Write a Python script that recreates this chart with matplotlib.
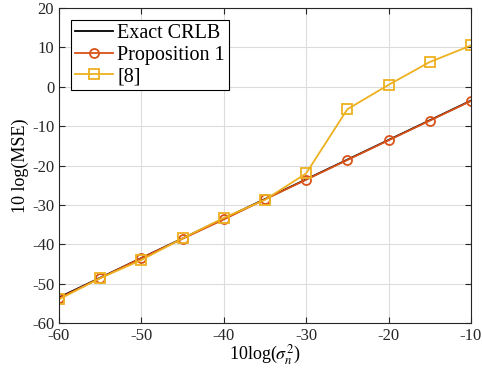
import numpy as np
import matplotlib; matplotlib.use('Agg'); import matplotlib.pyplot as plt

plt.rcParams['font.family'] = ['Liberation Serif', 'DejaVu Serif']
plt.rcParams['mathtext.fontset'] = 'stix'
plt.rcParams['axes.unicode_minus'] = False

snr = [-60, -55, -50, -45, -40, -35, -30, -25, -20, -15, -10]
crlb = [-53.5, -48.5, -43.5, -38.5, -33.5, -28.5, -23.5, -18.5, -13.5, -8.5, -3.5]
prop1 = [-53.7, -48.6, -43.5, -38.6, -33.7, -28.6, -23.6, -18.6, -13.6, -8.6, -3.6]
ref8 = [-54.0, -48.6, -44.0, -38.5, -33.3, -28.7, -22.0, -5.7, 0.5, 6.3, 10.5]

fig = plt.figure(figsize=(4.82, 3.68), dpi=100)
ax = fig.add_axes([0.1224, 0.1223, 0.8546, 0.8557])
ax.plot(snr, crlb, '-', color='k', lw=1.3, label='Exact CRLB')
ax.plot(snr, prop1, '-o', color='#D95319', lw=1.3, ms=6.5, mfc='none', mew=1.3, label='Proposition 1')
ax.plot(snr, ref8, '-s', color='#EDB120', lw=1.3, ms=6.5, mfc='none', mew=1.3, label='[8]')

ax.set_xlim(-60, -10); ax.set_ylim(-60, 20)
ax.set_xticks(range(-60, -9, 10)); ax.set_yticks(range(-60, 21, 10))
ax.grid(True, color='#dcdcdc', lw=0.8)
ax.set_axisbelow(True)
ax.tick_params(direction='in', top=True, right=True, labelsize=12, colors='#262626', length=4)
for s in ax.spines.values(): s.set_color('#262626'); s.set_linewidth(0.8)
ax.set_xlabel(r'10log($\sigma_n^2$)', fontsize=13, labelpad=-1)
ax.set_ylabel('10 log(MSE)', fontsize=13, labelpad=2)
leg = ax.legend(loc='upper left', fontsize=14.5, fancybox=False, edgecolor='k', framealpha=1,
                handlelength=1.9, borderpad=0.2, labelspacing=0.12, handletextpad=0.2, borderaxespad=0.6)
leg.get_frame().set_linewidth(0.8)
fig.savefig('out.png', dpi=100)
